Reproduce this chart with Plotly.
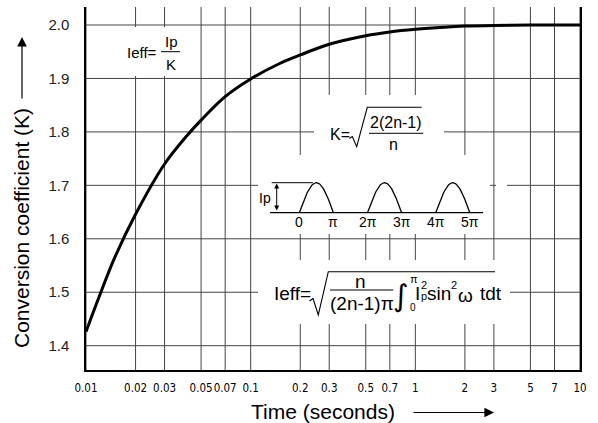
import numpy as np
import plotly.graph_objects as go

# ---------------- data ----------------
time_s = [0.01, 0.012, 0.015, 0.02, 0.03, 0.04, 0.05, 0.07, 0.1, 0.15, 0.2, 0.3,
          0.5, 0.7, 1, 1.5, 2, 3, 5, 7, 10]
k_coef = [1.426, 1.491, 1.566, 1.646, 1.740, 1.789, 1.822, 1.866, 1.899, 1.928,
          1.944, 1.964, 1.980, 1.987, 1.992, 1.996, 1.998, 1.9993, 2.0, 2.0, 2.0]

x_tickvals = [0.01, 0.02, 0.03, 0.05, 0.07, 0.1, 0.2, 0.3, 0.5, 0.7, 1, 2, 3, 5, 7, 10]
x_ticktext = ["0.01", "0.02", "0.03", "0.05", "0.07", "0.1", "0.2", "0.3", "0.5",
              "0.7", "1", "2", "3", "5", "7", "10"]
y_tickvals = [1.4, 1.5, 1.6, 1.7, 1.8, 1.9, 2.0]
y_ticktext = ["1.4", "1.5", "1.6", "1.7", "1.8", "1.9", "2.0"]

# inset waveform (half-wave pulses, phase in units of pi)
pulse_starts = [0, 2, 4]
phase_ticks = [0, 1, 2, 3, 4, 5]
phase_labels = ["0", "π", "2π", "3π", "4π", "5π"]

# ---------------- layout helpers ----------------
W, H = 598, 423
L, R, T, B = 86, 580, 7, 370


def PX(x):
    return (x - L) / (R - L)


def PY(y):
    return (B - y) / (B - T)


FONT = "Liberation Sans, Arial, Helvetica, sans-serif"
NARROW = "Liberation Sans Narrow, DejaVu Sans Condensed, Arial Narrow, Liberation Sans, sans-serif"
GRID = "#444444"

fig = go.Figure()

fig.add_trace(go.Scatter(
    x=time_s, y=k_coef, mode="lines",
    line=dict(color="black", width=3, shape="spline", smoothing=1.0),
    hoverinfo="skip", showlegend=False, xaxis="x", yaxis="y"))

u = np.linspace(0, 1, 41)
for s in pulse_starts:
    fig.add_trace(go.Scatter(
        x=s + u, y=np.sin(np.pi * u), mode="lines",
        line=dict(color="black", width=1.3),
        hoverinfo="skip", showlegend=False, xaxis="x2", yaxis="y2"))

shapes = []

# grid lines (below traces), drawn through the axes' own scales
for v in x_tickvals:
    shapes.append(dict(type="line", xref="x", yref="y domain", x0=v, x1=v, y0=0, y1=1,
                       line=dict(color=GRID, width=1), layer="below"))
for v in y_tickvals:
    shapes.append(dict(type="line", xref="x domain", yref="y", x0=0, x1=1, y0=v, y1=v,
                       line=dict(color=GRID, width=1), layer="below"))


def white_box(x0, x1, y0, y1):
    shapes.append(dict(type="rect", xref="x domain", yref="y domain",
                       x0=PX(x0), x1=PX(x1), y0=PY(y1), y1=PY(y0),
                       fillcolor="white", line=dict(width=0), layer="below"))


white_box(120, 195, 27, 76)     # Ieff = Ip/K
white_box(314, 444, 95, 156)    # K formula
white_box(258, 490, 155, 234)   # waveform inset
white_box(496, 507, 181, 189)
white_box(258, 510, 260, 324)   # Ieff integral formula


def hline(x0, x1, y, w=1):
    shapes.append(dict(type="line", xref="paper", yref="paper",
                       x0=PX(x0), x1=PX(x1), y0=PY(y), y1=PY(y),
                       line=dict(color="black", width=w), layer="above"))


def path(pts, w=1):
    d = "M " + " L ".join(f"{PX(x):.5f},{PY(y):.5f}" for x, y in pts)
    shapes.append(dict(type="path", xref="paper", yref="paper", path=d,
                       line=dict(color="black", width=w), layer="above"))


# fraction bars
hline(161, 180, 51.7)
hline(369, 423.3, 133.3)
hline(330, 393.3, 290)
# radicals
path([(349.3, 138.5), (352.3, 136.5), (356.7, 146.7), (367.3, 107.3), (421.7, 107.3)], 1.1)
path([(309.5, 301), (313, 298.5), (318.3, 315), (328.3, 271.7), (495, 271.7)], 1.1)

# inset lines
shapes.append(dict(type="line", xref="x2", yref="y2", x0=-0.86, x1=5.39, y0=0, y1=0,
                   line=dict(color="black", width=1.2), layer="above"))
shapes.append(dict(type="line", xref="x2", yref="y2", x0=-0.81, x1=0.4, y0=1, y1=1,
                   line=dict(color="black", width=1.0), layer="above"))

ann = []


def txt(x, y, s, size, family=FONT, **kw):
    ann.append(dict(x=PX(x), y=PY(y), xref="paper", yref="paper", text=s,
                    showarrow=False, xanchor="center", yanchor="middle",
                    font=dict(size=size, family=family, color="black"), **kw))


# Ieff = Ip / K
txt(142, 53, "Ieff=", 15)
txt(171, 42, "Ip", 15)
txt(171, 64, "K", 15)
# K = sqrt(2(2n-1)/n)
txt(339.5, 134.5, "K=", 16)
txt(396, 122.5, "2(2n-1)", 16)
txt(393.3, 145, "n", 16)
# Ieff integral
txt(292.5, 293.5, "Ieff=", 19)
txt(360, 281, "n", 19)
txt(361.7, 303, "(2n-1)π", 19)
txt(400.5, 295, "∫", 30, family="DejaVu Sans, sans-serif")
txt(414, 278.5, "π", 11)
txt(412.5, 307, "0", 10)
txt(417.5, 293.5, "I", 19)
txt(424, 285, "2", 11)
txt(424, 296, "p", 11)
txt(439, 293.5, "sin", 19)
txt(453.8, 285, "2", 11)
txt(465, 295, "ω", 19)
txt(490.5, 293.5, "tdt", 19)
# inset labels
txt(265, 198, "Ip", 14)
for p, lab in zip(phase_ticks, phase_labels):
    ann.append(dict(x=p, y=-0.3, xref="x2", yref="y2", text=lab, showarrow=False,
                    xanchor="center", yanchor="middle",
                    font=dict(size=14, family=FONT, color="black")))
# Ip dimension arrow
ann.append(dict(x=PX(276.7), y=PY(183.5), xref="paper", yref="paper", text="",
                showarrow=True, ax=0, ay=28.5, arrowside="end+start",
                arrowhead=2, arrowsize=1, arrowwidth=1, arrowcolor="black"))

# axis titles
txt(21, 228, "Conversion coefficient (K)", 21, textangle=-90)
ann.append(dict(x=PX(22), y=PY(37), xref="paper", yref="paper", text="",
                showarrow=True, ax=0, ay=63, arrowhead=2, arrowsize=1.6,
                arrowwidth=1.2, arrowcolor="black"))
txt(323.3, 411.5, "Time (seconds)", 21)
ann.append(dict(x=PX(494), y=PY(412.5), xref="paper", yref="paper", text="",
                showarrow=True, ax=-82, ay=0, arrowhead=2, arrowsize=1.6,
                arrowwidth=1.2, arrowcolor="black"))

fig.update_layout(
    width=W, height=H,
    margin=dict(l=L, r=W - R, t=T, b=H - B),
    paper_bgcolor="white", plot_bgcolor="rgba(0,0,0,0)",
    showlegend=False,
    shapes=shapes, annotations=ann,
    xaxis=dict(type="log", range=[-2, 1], tickvals=x_tickvals, ticktext=x_ticktext,
               showgrid=False, tickangle=0,
               showline=True, linecolor="black", linewidth=1.5, mirror=False,
               ticks="", ticklen=0, ticklabelstandoff=6, zeroline=False,
               tickfont=dict(size=11.5, family=NARROW, color="black")),
    yaxis=dict(range=[1.3545, 2.0337], tickvals=y_tickvals, ticktext=y_ticktext,
               showgrid=False,
               showline=True, linecolor="black", linewidth=1.5, mirror=True,
               ticks="", ticklen=0, ticklabelstandoff=12, zeroline=False,
               tickfont=dict(size=15, family=FONT, color="#222")),
    xaxis2=dict(domain=[PX(258), PX(490)], range=[-1.211, 5.592], anchor="y2",
                visible=False, fixedrange=True),
    yaxis2=dict(domain=[PY(234), PY(155)], range=[-0.71, 1.923], anchor="x2",
                visible=False, fixedrange=True),
)

fig.write_html("out.html", config={"displayModeBar": False},
               post_script="document.body.style.margin='0';document.body.style.padding='0';")
